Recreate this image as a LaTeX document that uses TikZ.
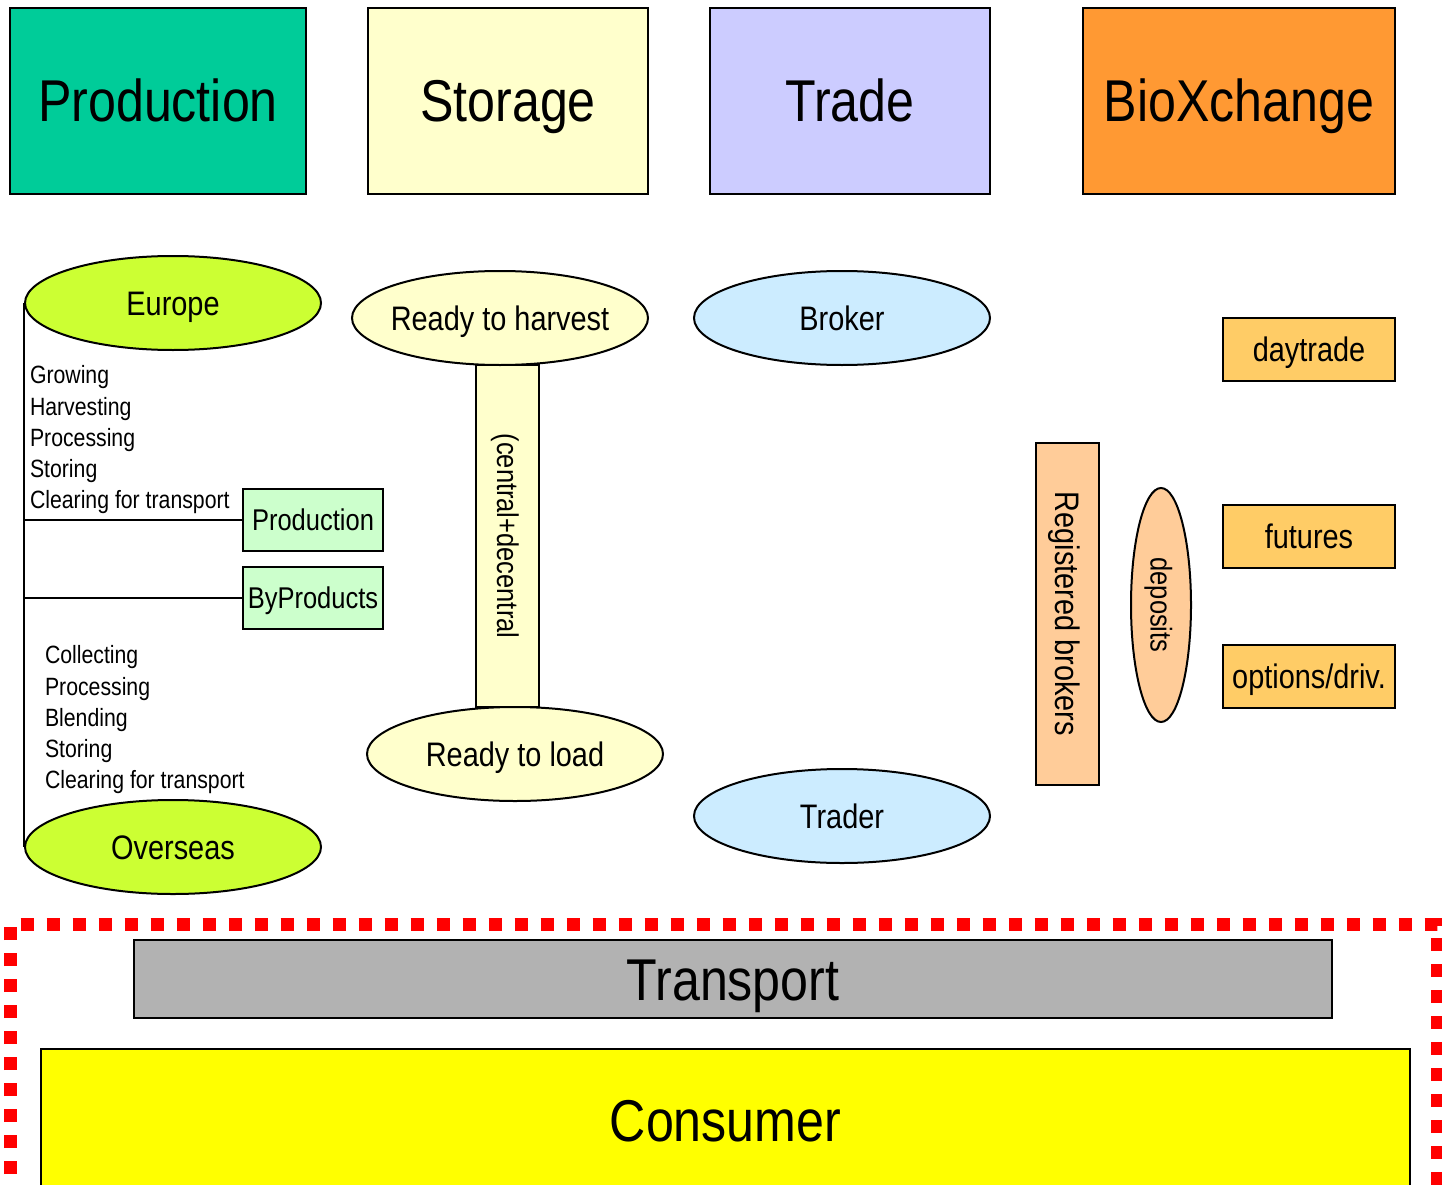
\documentclass[tikz,border=0pt]{standalone}
\usepackage{fontspec}
\setmainfont{Liberation Sans}[FakeStretch=0.85]
\usetikzlibrary{shapes.geometric, positioning}

\definecolor{prodgreen}{HTML}{00CC99}
\definecolor{paleyellow}{HTML}{FFFFCC}
\definecolor{lilac}{HTML}{CCCCFF}
\definecolor{bioorange}{HTML}{FF9933}
\definecolor{lime}{HTML}{CCFF33}
\definecolor{mint}{HTML}{CCFFCC}
\definecolor{skyblue}{HTML}{CCECFF}
\definecolor{peach}{HTML}{FFCC99}
\definecolor{gold}{HTML}{FFCC66}
\definecolor{transgray}{HTML}{B2B2B2}
\definecolor{consyellow}{HTML}{FFFF00}
\definecolor{framered}{HTML}{FF0000}

\begin{document}
\begin{tikzpicture}[x=1pt, y=-1pt, line width=2pt,
    every node/.style={inner sep=0pt},
    headbox/.style={draw, rectangle, minimum height=186pt,
        font=\fontsize{59}{60}\selectfont, text height=42pt, text depth=0pt},
    oval/.style={draw, ellipse, inner xsep=-10pt, minimum width=296pt, minimum height=94pt,
        font=\fontsize{34}{36}\selectfont, text height=24pt, text depth=0pt},
    smallbox/.style={draw, rectangle, fill=mint, minimum width=140pt, minimum height=62pt,
        font=\fontsize{30}{32}\selectfont, text height=21pt, text depth=0pt},
    marketbox/.style={draw, rectangle, fill=gold, minimum width=172pt, minimum height=63pt,
        font=\fontsize{34}{36}\selectfont, text height=24pt, text depth=0pt},
    listtext/.style={anchor=base west, font=\fontsize{25}{30}\selectfont},
    widebox/.style={draw, rectangle, line width=2.5pt,
        font=\fontsize{59}{60}\selectfont, text height=42pt, text depth=0pt},
    redframe/.style={draw=framered, line width=13pt, dash pattern=on 13pt off 13pt}]

    \path[use as bounding box, clip] (0,0) rectangle (1442,1185);

    % headers
    \node[headbox, fill=prodgreen, minimum width=296pt] (production) at (158,101) {Production};
    \node[headbox, fill=paleyellow, minimum width=280pt] (storage) at (508,101) {Storage};
    \node[headbox, fill=lilac, minimum width=280pt] (trade) at (850,101) {Trade};
    \node[headbox, fill=bioorange, minimum width=312pt] (bioxchange) at (1239,101) {BioXchange};

    % production column
    \node[oval, fill=lime] (europe) at (173,303) {Europe};
    \node[oval, fill=lime] (overseas) at (173,847) {Overseas};
    \node[smallbox] (prodsmall) at (313,520) {Production};
    \node[smallbox] (byproducts) at (313,598) {ByProducts};

    \draw (europe.west) -- (overseas.west);
    \draw (prodsmall.west) -- (prodsmall.west -| europe.west);
    \draw (byproducts.west) -- (byproducts.west -| europe.west);

    \foreach \w [count=\i] in {Growing, Harvesting, Processing, Storing, Clearing for transport}
        \node[listtext] (grow\i) at (29, 352.7+31.25*\i) {\w};
    \foreach \w [count=\i] in {Collecting, Processing, Blending, Storing, Clearing for transport}
        \node[listtext] (collect\i) at (44, 632.7+31.25*\i) {\w};

    % storage column
    \node[draw, fill=paleyellow, rotate=-90, minimum width=342pt, minimum height=63pt,
        font=\fontsize{30}{32}\selectfont, text height=21pt, text depth=0pt] (central) at (507.5,536) {(central+decentral};
    \node[oval, fill=paleyellow] (harvest) at (500,318) {Ready to harvest};
    \node[oval, fill=paleyellow] (load) at (515,754) {Ready to load};

    % trade column
    \node[oval, fill=skyblue] (broker) at (842,318) {Broker};
    \node[oval, fill=skyblue] (trader) at (842,816) {Trader};

    % bioxchange column
    \node[draw, fill=peach, rotate=-90, minimum width=342pt, minimum height=63pt,
        font=\fontsize{34}{36}\selectfont, text height=24pt, text depth=0pt] (registered) at (1067.5,614) {Registered brokers};
    \node[draw, ellipse, fill=peach, rotate=-90, minimum width=234pt, minimum height=60pt,
        font=\fontsize{30}{32}\selectfont, text height=21pt, text depth=0pt] (deposits) at (1161,605) {deposits};
    \node[marketbox] (daytrade) at (1309,349.5) {daytrade};
    \node[marketbox] (futures) at (1309,536.5) {futures};
    \node[marketbox] (options) at (1309,676.5) {options/driv.};

    % transport and consumer
    \draw[redframe] (10,1200) -- (10,924.5) -- (1437,924.5) -- (1437,1200);
    \node[widebox, fill=transgray, minimum width=1198pt, minimum height=78pt] (transport) at (733,979) {Transport};
    \node[widebox, fill=consyellow, minimum width=1369pt, minimum height=142pt] (consumer) at (725.5,1120) {Consumer};
\end{tikzpicture}
\end{document}
